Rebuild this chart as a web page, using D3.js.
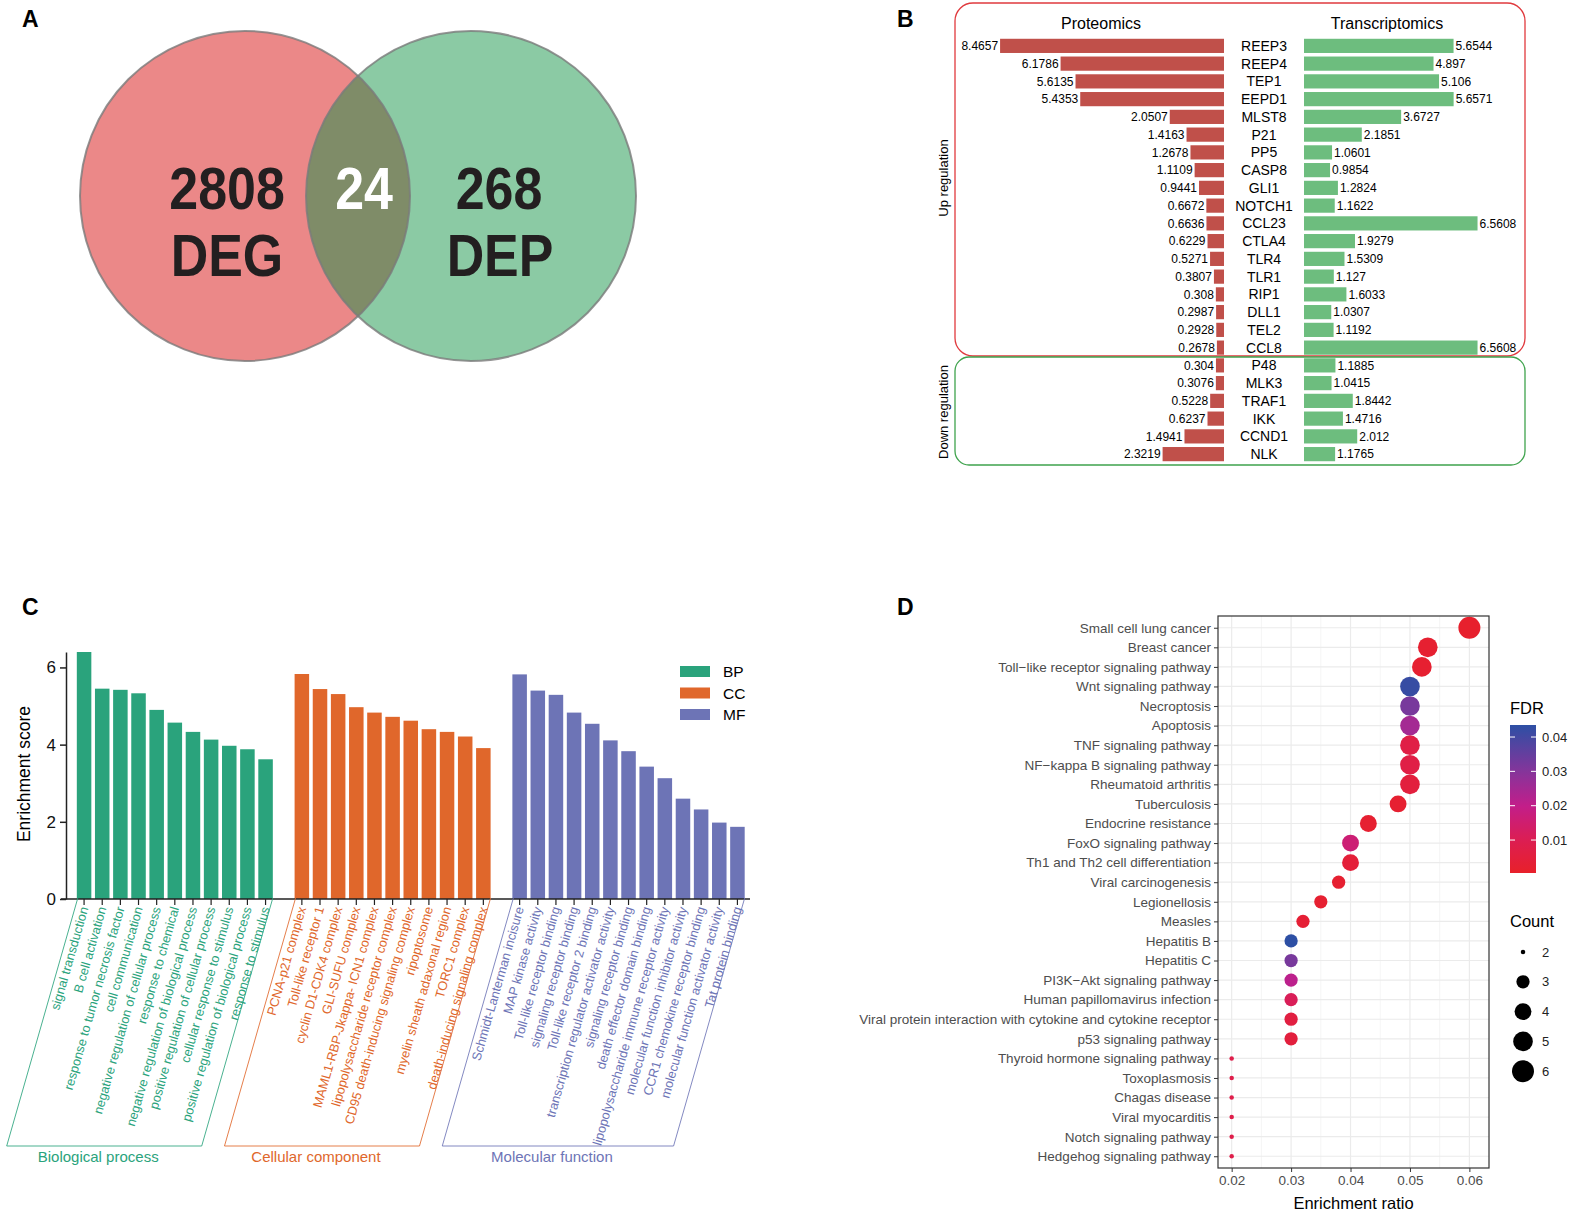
<!DOCTYPE html>
<html lang="en">
<head>
<meta charset="UTF-8">
<title>Multi-omics overview</title>
<style>
  body { margin: 0; background: #fff; }
  svg { display: block; font-family: "Liberation Sans", Arial, sans-serif; }
</style>
</head>
<body>
<script src="https://d3js.org/d3.v7.min.js"></script>
<script>
// ---------- data ----------
// A: venn counts
const vennSets = ["DEG", "DEP"];
const vennOnly = [2808, 268];
const vennShared = 24;

// B: up / down regulated genes
const genesB = ["REEP3","REEP4","TEP1","EEPD1","MLST8","P21","PP5","CASP8","GLI1","NOTCH1","CCL23","CTLA4",
  "TLR4","TLR1","RIP1","DLL1","TEL2","CCL8","P48","MLK3","TRAF1","IKK","CCND1","NLK"];
const proteomics = [8.4657,6.1786,5.6135,5.4353,2.0507,1.4163,1.2678,1.1109,0.9441,0.6672,0.6636,0.6229,
  0.5271,0.3807,0.308,0.2987,0.2928,0.2678,0.304,0.3076,0.5228,0.6237,1.4941,2.3219];
const transcriptomics = [5.6544,4.897,5.106,5.6571,3.6727,2.1851,1.0601,0.9854,1.2824,1.1622,6.5608,1.9279,
  1.5309,1.127,1.6033,1.0307,1.1192,6.5608,1.1885,1.0415,1.8442,1.4716,2.012,1.1765];
const upCount = 18;

// C: GO enrichment
const bpTerms = ["signal transduction","B cell activation","response to tumor necrosis factor","cell communication",
  "negative regulation of cellular process","response to chemical","negative regulation of biological process",
  "positive regulation of cellular process","cellular response to stimulus","positive regulation of biological process",
  "response to stimulus"];
const bpScores = [6.40,5.45,5.42,5.33,4.90,4.57,4.33,4.13,3.97,3.88,3.62];
const ccTerms = ["PCNA-p21 complex","Toll-like receptor 1","cyclin D1-CDK4 complex","GLI-SUFU complex",
  "MAML1-RBP-Jkappa- ICN1 complex","lipopolysaccharide receptor complex","CD95 death-inducing signaling complex",
  "ripoptosome","myelin sheath adaxonal region","TORC1 complex","death-inducing signaling complex"];
const ccScores = [5.83,5.44,5.31,4.97,4.83,4.72,4.62,4.40,4.33,4.21,3.91];
const mfTerms = ["Schmidt-Lanterman incisure","MAP kinase activity","Toll-like receptor binding","signaling receptor binding",
  "Toll-like receptor 2 binding","transcription regulator activator activity","signaling receptor binding",
  "death effector domain binding","lipopolysaccharide immune receptor activity","molecular function inhibitor activity",
  "CCR1 chemokine receptor binding","molecular function activator activity","Tat protein binding"];
const mfScores = [5.82,5.40,5.29,4.83,4.54,4.11,3.83,3.43,3.13,2.60,2.32,1.98,1.87];
const goGroups = ["BP","CC","MF"];
const goGroupNames = ["Biological process","Cellular component","Molecular function"];

// D: KEGG enrichment
const pathways = ["Small cell lung cancer","Breast cancer","Toll\u2212like receptor signaling pathway","Wnt signaling pathway",
  "Necroptosis","Apoptosis","TNF signaling pathway","NF\u2212kappa B signaling pathway","Rheumatoid arthritis","Tuberculosis",
  "Endocrine resistance","FoxO signaling pathway","Th1 and Th2 cell differentiation","Viral carcinogenesis","Legionellosis",
  "Measles","Hepatitis B","Hepatitis C","PI3K\u2212Akt signaling pathway","Human papillomavirus infection",
  "Viral protein interaction with cytokine and cytokine receptor","p53 signaling pathway","Thyroid hormone signaling pathway",
  "Toxoplasmosis","Chagas disease","Viral myocarditis","Notch signaling pathway","Hedgehog signaling pathway"];
const ratios = [0.06,0.053,0.052,0.05,0.05,0.05,0.05,0.05,0.05,0.048,0.043,0.04,0.04,0.038,0.035,0.032,
  0.03,0.03,0.03,0.03,0.03,0.03,0.02,0.02,0.02,0.02,0.02,0.02];
const counts = [6,5,5,5,5,5,5,5,5,4,4,4,4,3,3,3,3,3,3,3,3,3,2,2,2,2,2,2];
const fdrs = [0.001,0.002,0.002,0.042,0.032,0.025,0.007,0.007,0.005,0.002,0.002,0.016,0.004,0.002,0.002,0.003,
  0.045,0.032,0.021,0.011,0.006,0.005,0.008,0.008,0.008,0.008,0.008,0.008];
const fdrTicks = [0.01,0.02,0.03,0.04];
const countTicks = [2,3,4,5,6];
const ratioTicks = [0.02,0.03,0.04,0.05,0.06];

// ---------- canvas ----------
const svg = d3.select("body").append("svg")
  .attr("width", 1575)
  .attr("height", 1214);
const defs = svg.append("defs");

// panel letters
svg.selectAll("text.panel")
  .data([["A",22,27],["B",897,27],["C",22,615],["D",897,615]])
  .join("text")
    .attr("class", "panel")
    .attr("x", d => d[1]).attr("y", d => d[2])
    .attr("font-size", 23).attr("font-weight", "bold")
    .text(d => d[0]);

// ---------- A: venn ----------
const gA = svg.append("g");
const circ = [{cx: 245, cy: 196, r: 165, fill: "#EB8888"}, {cx: 471, cy: 196, r: 165, fill: "#8BCAA4"}];
defs.append("clipPath").attr("id", "clipLeft")
  .append("circle").attr("cx", circ[0].cx).attr("cy", circ[0].cy).attr("r", circ[0].r);
gA.selectAll("circle.set").data(circ).join("circle")
  .attr("class", "set")
  .attr("cx", d => d.cx).attr("cy", d => d.cy).attr("r", d => d.r)
  .attr("fill", d => d.fill);
gA.append("circle")
  .attr("cx", circ[1].cx).attr("cy", circ[1].cy).attr("r", circ[1].r)
  .attr("clip-path", "url(#clipLeft)")
  .attr("fill", "#7F8C68");
gA.selectAll("circle.edge").data(circ).join("circle")
  .attr("class", "edge")
  .attr("cx", d => d.cx).attr("cy", d => d.cy).attr("r", d => d.r)
  .attr("fill", "none").attr("stroke", "#7a7a7a").attr("stroke-width", 2).attr("stroke-opacity", 0.8);

// region labels: number on top, set name below, squeezed to a condensed look
const vennLabels = [
  {x: 227, y: 209, t: vennOnly[0], c: "#231F20"},
  {x: 227, y: 276, t: vennSets[0], c: "#231F20"},
  {x: 364, y: 209, t: vennShared, c: "#fff"},
  {x: 499, y: 209, t: vennOnly[1], c: "#231F20"},
  {x: 500, y: 276, t: vennSets[1], c: "#231F20"}
];
gA.selectAll("text").data(vennLabels).join("text")
  .attr("transform", d => `translate(${d.x},${d.y}) scale(0.88,1)`)
  .attr("text-anchor", "middle")
  .attr("font-size", 59).attr("font-weight", "bold")
  .attr("fill", d => d.c)
  .text(d => d.t);

// ---------- B: proteomics vs transcriptomics ----------
const gB = svg.append("g");
const yB = d3.scaleBand().domain(genesB).range([37, 463]).paddingInner(0.2).paddingOuter(0.1);
const wB = d3.scaleLinear().domain([0, 10]).range([0, 264.5]);
const protRight = 1224, tranLeft = 1304, geneX = 1264;

gB.append("rect").attr("x", 955).attr("y", 3).attr("width", 570).attr("height", 353)
  .attr("rx", 18).attr("fill", "none").attr("stroke", "#E03A3E").attr("stroke-width", 1.3);
gB.append("rect").attr("x", 955).attr("y", 357).attr("width", 570).attr("height", 108)
  .attr("rx", 14).attr("fill", "none").attr("stroke", "#3FA34D").attr("stroke-width", 1.3);

gB.append("text").attr("x", 943).attr("y", 178).attr("transform", "rotate(-90,943,178)")
  .attr("text-anchor", "middle").attr("dy", "0.35em").attr("font-size", 13).text("Up regulation");
gB.append("text").attr("x", 943).attr("y", 412).attr("transform", "rotate(-90,943,412)")
  .attr("text-anchor", "middle").attr("dy", "0.35em").attr("font-size", 13).text("Down regulation");

gB.append("text").attr("x", 1101).attr("y", 29).attr("text-anchor", "middle").attr("font-size", 16).text("Proteomics");
gB.append("text").attr("x", 1387).attr("y", 29).attr("text-anchor", "middle").attr("font-size", 16).text("Transcriptomics");

const rowsB = genesB.map((g, i) => ({gene: g, p: proteomics[i], t: transcriptomics[i]}));
gB.selectAll("rect.prot").data(rowsB).join("rect")
  .attr("class", "prot")
  .attr("x", d => protRight - wB(d.p)).attr("y", d => yB(d.gene))
  .attr("width", d => wB(d.p)).attr("height", yB.bandwidth())
  .attr("fill", "#C0504A");
gB.selectAll("rect.tran").data(rowsB).join("rect")
  .attr("class", "tran")
  .attr("x", tranLeft).attr("y", d => yB(d.gene))
  .attr("width", d => wB(d.t)).attr("height", yB.bandwidth())
  .attr("fill", "#6DBD7E");
gB.selectAll("text.gene").data(rowsB).join("text")
  .attr("class", "gene")
  .attr("x", geneX).attr("y", d => yB(d.gene) + yB.bandwidth() / 2)
  .attr("dy", "0.36em").attr("text-anchor", "middle").attr("font-size", 14)
  .text(d => d.gene);
gB.selectAll("text.pval").data(rowsB).join("text")
  .attr("class", "pval")
  .attr("x", d => protRight - wB(d.p) - 2).attr("y", d => yB(d.gene) + yB.bandwidth() / 2)
  .attr("dy", "0.36em").attr("text-anchor", "end").attr("font-size", 12)
  .text(d => d.p);
gB.selectAll("text.tval").data(rowsB).join("text")
  .attr("class", "tval")
  .attr("x", d => tranLeft + wB(d.t) + 2).attr("y", d => yB(d.gene) + yB.bandwidth() / 2)
  .attr("dy", "0.36em").attr("font-size", 12)
  .text(d => d.t);

// ---------- C: GO bar chart ----------
const gC = svg.append("g");
const goColors = d3.scaleOrdinal().domain(goGroups).range(["#2AA37C", "#E0672B", "#6D74B6"]);
const termsC = [];
[[bpTerms, bpScores], [ccTerms, ccScores], [mfTerms, mfScores]].forEach(([terms, scores], gi) => {
  terms.forEach((t, i) => termsC.push({key: goGroups[gi] + i, label: t, score: scores[i], group: goGroups[gi]}));
  if (gi < 2) termsC.push({key: "gap" + gi, gap: true});
});
const bars = termsC.filter(d => !d.gap);
const xC = d3.scaleBand().domain(termsC.map(d => d.key)).range([75, 746.5]).paddingInner(0.2).paddingOuter(0.1);
const yC = d3.scaleLinear().domain([0, 6.4]).range([899, 652]);

gC.selectAll("rect.bar").data(bars).join("rect")
  .attr("class", "bar")
  .attr("x", d => xC(d.key)).attr("y", d => yC(d.score))
  .attr("width", xC.bandwidth()).attr("height", d => yC(0) - yC(d.score))
  .attr("fill", d => goColors(d.group));

const yAxisC = gC.append("g").attr("transform", "translate(66,0)")
  .call(d3.axisLeft(yC).tickValues([0, 2, 4, 6]).tickFormat(d3.format("d"))
    .tickSize(6).tickSizeOuter(0).tickPadding(4));
yAxisC.selectAll("text").attr("font-size", 17).attr("font-family", "Liberation Sans, Arial, sans-serif").attr("fill", "#111");
yAxisC.selectAll("line,path").attr("stroke", "#222").attr("stroke-width", 1.5);

gC.append("line").attr("x1", 61).attr("x2", 750).attr("y1", 899).attr("y2", 899)
  .attr("stroke", "#222").attr("stroke-width", 1.5);
gC.selectAll("line.tick").data(bars).join("line")
  .attr("class", "tick")
  .attr("x1", d => xC(d.key) + xC.bandwidth() / 2).attr("x2", d => xC(d.key) + xC.bandwidth() / 2)
  .attr("y1", 899).attr("y2", 905).attr("stroke", "#222").attr("stroke-width", 1.2);

gC.append("text").attr("transform", "translate(30,774) rotate(-90)")
  .attr("text-anchor", "middle").attr("font-size", 17.5).text("Enrichment score");

const ang = 74;
gC.selectAll("text.term").data(bars).join("text")
  .attr("class", "term")
  .attr("transform", d => `translate(${xC(d.key) + xC.bandwidth() / 2},907) rotate(${-ang})`)
  .attr("text-anchor", "end").attr("dy", "0.35em").attr("font-size", 12.8)
  .attr("fill", d => goColors(d.group))
  .text(d => d.label);

// slanted brackets under each group
const slant = (1146 - 898) / Math.tan(ang * Math.PI / 180);
goGroups.forEach((g, gi) => {
  const grp = bars.filter(d => d.group === g);
  const x0 = xC(grp[0].key) + 1, x1 = xC(grp[grp.length - 1].key) + xC.bandwidth();
  gC.append("path")
    .attr("d", `M${x0},898L${x0 - slant},1146L${x1 - slant},1146L${x1},898`)
    .attr("fill", "none").attr("stroke", goColors(g)).attr("stroke-opacity", 0.85).attr("stroke-width", 1);
  gC.append("text")
    .attr("x", (x0 + x1) / 2 - slant - 6).attr("y", 1162)
    .attr("text-anchor", "middle").attr("font-size", 15).attr("fill", goColors(g))
    .text(goGroupNames[gi]);
});

const legC = gC.append("g").attr("transform", "translate(680,666)");
legC.selectAll("rect").data(goGroups).join("rect")
  .attr("x", 0).attr("y", (d, i) => i * 21.5).attr("width", 30).attr("height", 11)
  .attr("fill", d => goColors(d));
legC.selectAll("text").data(goGroups).join("text")
  .attr("x", 43).attr("y", (d, i) => i * 21.5 + 5.5).attr("dy", "0.36em")
  .attr("font-size", 15.5).text(d => d);

// ---------- D: KEGG dot plot ----------
const gD = svg.append("g");
const plotD = {x0: 1218, x1: 1489, y0: 616, y1: 1168};
const xD = d3.scaleLinear().domain([0.0177, 0.0633]).range([plotD.x0, plotD.x1]);
const yD = d3.scalePoint().domain(pathways).range([plotD.y0, plotD.y1]).padding(0.6);
const fdrDomain = [0.0004, 0.01, 0.02, 0.03, 0.0435];
const fdrColor = d3.scaleLinear().domain(fdrDomain)
  .range(["#E8202A", "#DC1E52", "#C21E8A", "#85359B", "#2D4FA4"]).clamp(true);
const sizeD = c => (4.5 + 17.5 * Math.sqrt((c - 2) / 4)) / 2;

gD.selectAll("line.vminor").data([0.025, 0.035, 0.045, 0.055]).join("line")
  .attr("class", "vminor")
  .attr("x1", d => xD(d)).attr("x2", d => xD(d)).attr("y1", plotD.y0).attr("y2", plotD.y1)
  .attr("stroke", "#F2F2F2").attr("stroke-width", 0.8);
gD.selectAll("line.vmajor").data(ratioTicks).join("line")
  .attr("class", "vmajor")
  .attr("x1", d => xD(d)).attr("x2", d => xD(d)).attr("y1", plotD.y0).attr("y2", plotD.y1)
  .attr("stroke", "#EBEBEB").attr("stroke-width", 1.2);
gD.selectAll("line.hmajor").data(pathways).join("line")
  .attr("class", "hmajor")
  .attr("x1", plotD.x0).attr("x2", plotD.x1).attr("y1", d => yD(d)).attr("y2", d => yD(d))
  .attr("stroke", "#EBEBEB").attr("stroke-width", 1.2);

const rowsD = pathways.map((p, i) => ({name: p, ratio: ratios[i], count: counts[i], fdr: fdrs[i]}));
gD.selectAll("circle.pt").data(rowsD).join("circle")
  .attr("class", "pt")
  .attr("cx", d => xD(d.ratio)).attr("cy", d => yD(d.name))
  .attr("r", d => sizeD(d.count))
  .attr("fill", d => fdrColor(d.fdr));

gD.append("rect").attr("x", plotD.x0).attr("y", plotD.y0)
  .attr("width", plotD.x1 - plotD.x0).attr("height", plotD.y1 - plotD.y0)
  .attr("fill", "none").attr("stroke", "#333").attr("stroke-width", 1.2);

const yAxisD = gD.append("g").attr("transform", `translate(${plotD.x0},0)`)
  .call(d3.axisLeft(yD).tickSize(4).tickPadding(3));
yAxisD.select(".domain").remove();
yAxisD.selectAll("text").attr("font-size", 13.5).attr("fill", "#4D4D4D").attr("font-family", "Liberation Sans, Arial, sans-serif");
yAxisD.selectAll("line").attr("stroke", "#333");

const xAxisD = gD.append("g").attr("transform", `translate(0,${plotD.y1})`)
  .call(d3.axisBottom(xD).tickValues(ratioTicks).tickFormat(d3.format(".2f")).tickSize(4).tickPadding(3));
xAxisD.select(".domain").remove();
xAxisD.selectAll("text").attr("font-size", 13.5).attr("fill", "#4D4D4D").attr("font-family", "Liberation Sans, Arial, sans-serif");
xAxisD.selectAll("line").attr("stroke", "#333");

gD.append("text").attr("x", (plotD.x0 + plotD.x1) / 2).attr("y", 1209)
  .attr("text-anchor", "middle").attr("font-size", 16.5).text("Enrichment ratio");

// FDR colour bar
const cb = {x: 1510, y0: 725, y1: 873, w: 26};
const cbScale = d3.scaleLinear().domain([0.0004, 0.0435]).range([cb.y1, cb.y0]);
const grad = defs.append("linearGradient").attr("id", "fdrGrad")
  .attr("x1", 0).attr("y1", 1).attr("x2", 0).attr("y2", 0);
grad.selectAll("stop").data(d3.range(0, 1.001, 0.05)).join("stop")
  .attr("offset", d => d)
  .attr("stop-color", d => fdrColor(0.0004 + d * (0.0435 - 0.0004)));
gD.append("text").attr("x", cb.x).attr("y", 714).attr("font-size", 16.5).text("FDR");
gD.append("rect").attr("x", cb.x).attr("y", cb.y0).attr("width", cb.w).attr("height", cb.y1 - cb.y0)
  .attr("fill", "url(#fdrGrad)");
gD.selectAll("line.cbl").data(fdrTicks).join("line")
  .attr("class", "cbl")
  .attr("x1", cb.x).attr("x2", cb.x + 5).attr("y1", d => cbScale(d)).attr("y2", d => cbScale(d))
  .attr("stroke", "#fff");
gD.selectAll("line.cbr").data(fdrTicks).join("line")
  .attr("class", "cbr")
  .attr("x1", cb.x + cb.w - 5).attr("x2", cb.x + cb.w).attr("y1", d => cbScale(d)).attr("y2", d => cbScale(d))
  .attr("stroke", "#fff");
gD.selectAll("text.cbt").data(fdrTicks).join("text")
  .attr("class", "cbt")
  .attr("x", cb.x + cb.w + 6).attr("y", d => cbScale(d)).attr("dy", "0.36em")
  .attr("font-size", 13).attr("fill", "#222")
  .text(d => d3.format(".2f")(d));

// Count legend
gD.append("text").attr("x", cb.x).attr("y", 927).attr("font-size", 16.5).text("Count");
gD.selectAll("circle.key").data(countTicks).join("circle")
  .attr("class", "key")
  .attr("cx", cb.x + 13).attr("cy", (d, i) => 952 + i * 29.8)
  .attr("r", d => sizeD(d)).attr("fill", "#000");
gD.selectAll("text.key").data(countTicks).join("text")
  .attr("class", "key")
  .attr("x", cb.x + cb.w + 6).attr("y", (d, i) => 952 + i * 29.8).attr("dy", "0.36em")
  .attr("font-size", 13).attr("fill", "#222")
  .text(d => d);
</script>
</body>
</html>
